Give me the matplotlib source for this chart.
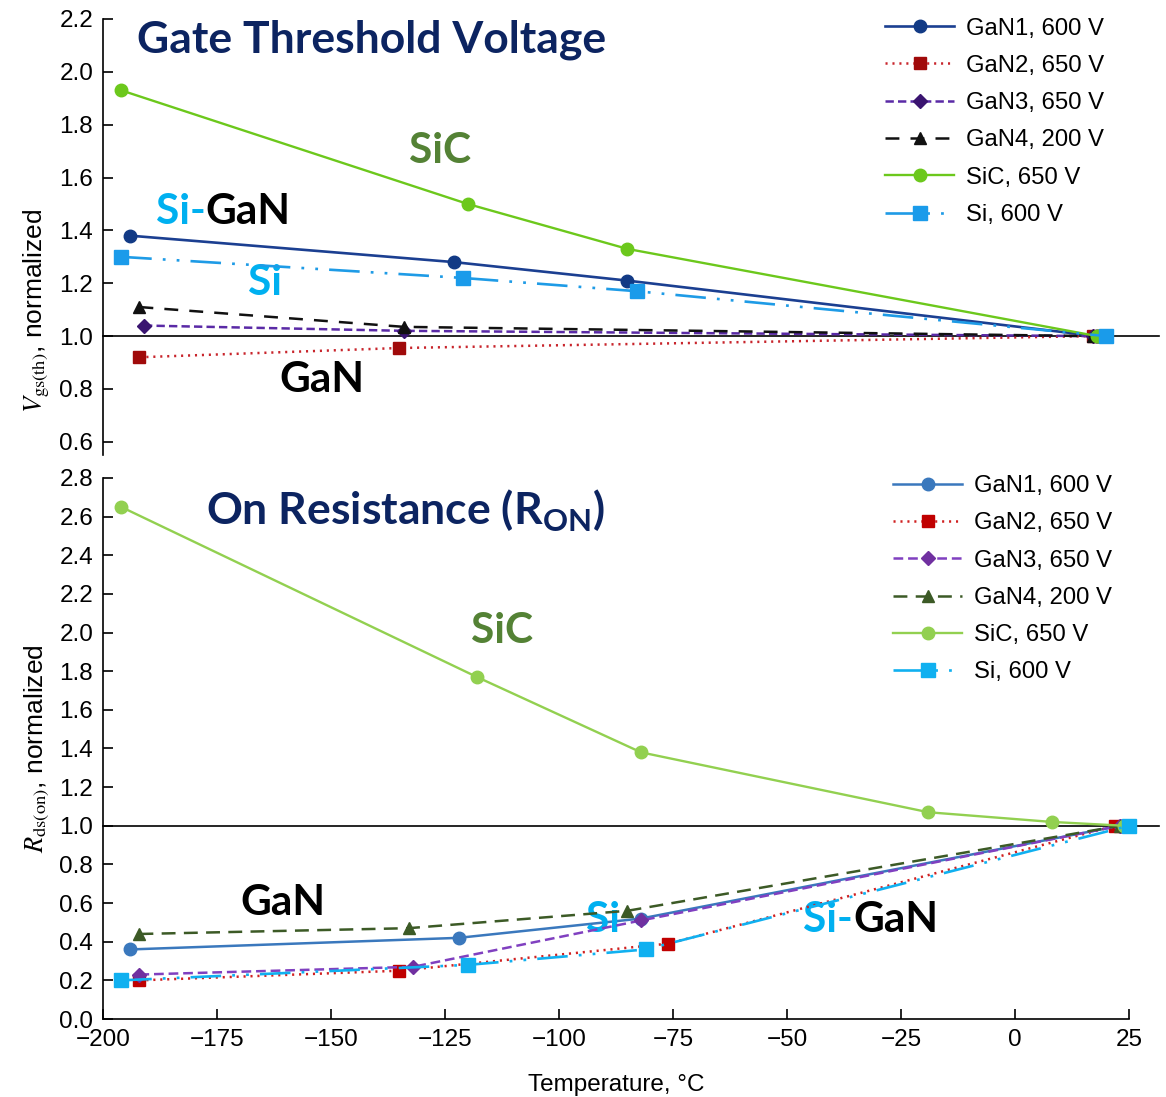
import matplotlib
matplotlib.use("Agg")
import matplotlib.pyplot as plt

plt.rcParams['font.family'] = ['Liberation Sans', 'DejaVu Sans']
plt.rcParams['lines.scale_dashes'] = False

labels = ["GaN1, 600 V", "GaN2, 650 V", "GaN3, 650 V", "GaN4, 200 V", "SiC, 650 V", "Si, 600 V"]

# --- top: gate threshold voltage (normalized to 25 C) ---
vth_gan1_t = [-194, -123, -85, 18]
vth_gan1_v = [1.38, 1.28, 1.21, 1.00]
vth_gan2_t = [-192, -135, 17]
vth_gan2_v = [0.92, 0.955, 1.00]
vth_gan3_t = [-191, -134, 17]
vth_gan3_v = [1.04, 1.02, 1.00]
vth_gan4_t = [-192, -134, 17]
vth_gan4_v = [1.11, 1.035, 1.00]
vth_sic_t = [-196, -120, -85, 18]
vth_sic_v = [1.93, 1.50, 1.33, 1.00]
vth_si_t = [-196, -121, -83, 20]
vth_si_v = [1.30, 1.22, 1.17, 1.00]

# --- bottom: on resistance (normalized to 25 C) ---
ron_gan1_t = [-194, -122, -82, 23]
ron_gan1_v = [0.36, 0.42, 0.52, 1.00]
ron_gan2_t = [-192, -135, -76, 22]
ron_gan2_v = [0.20, 0.25, 0.39, 1.00]
ron_gan3_t = [-192, -132, -82, 23]
ron_gan3_v = [0.23, 0.27, 0.51, 1.00]
ron_gan4_t = [-192, -133, -85, 23]
ron_gan4_v = [0.44, 0.47, 0.56, 1.00]
ron_sic_t = [-196, -118, -82, -19, 8, 24]
ron_sic_v = [2.65, 1.77, 1.38, 1.07, 1.02, 1.00]
ron_si_t = [-196, -120, -81, 25]
ron_si_v = [0.20, 0.28, 0.36, 1.00]

x_ticks = [-200, -175, -150, -125, -100, -75, -50, -25, 0, 25]

NAVY = '#0c2461'
ANN_GREEN = '#548235'
ANN_CYAN = '#00b0f0'
BOLD = dict(family='Lato', weight='bold')
TITLE_FS = 32
ANN_FS = 30.5

DOT = (0, (1.5, 3.5))
SI_DASH = (0, (22, 8, 2, 8, 2, 8))

top_styles = [
    dict(color='#1b3f91', ls='-', lw=1.9, marker='o', ms=9, mfc='#123a85', mec='#123a85'),
    dict(color='#c8242b', ls=DOT, lw=1.8, marker='s', ms=9, mfc='#a00a0a', mec='#a00a0a'),
    dict(color='#5a2aa6', ls=(0, (6, 3)), lw=1.8, marker='D', ms=7, mfc='#3a1470', mec='#3a1470'),
    dict(color='#111111', ls=(0, (10, 8)), lw=1.8, marker='^', ms=9, mfc='#111111', mec='#111111'),
    dict(color='#6cc81c', ls='-', lw=1.7, marker='o', ms=9, mfc='#6cc81c', mec='#6cc81c'),
    dict(color='#1e9be6', ls=SI_DASH, lw=1.9, marker='s', ms=9.5, mfc='#1a9bea', mec='#1a9bea'),
]
bot_styles = [
    dict(color='#3a78bd', ls='-', lw=1.8, marker='o', ms=9, mfc='#3a78bd', mec='#3a78bd'),
    dict(color='#d02020', ls=DOT, lw=1.8, marker='s', ms=9, mfc='#c00000', mec='#c00000'),
    dict(color='#8040c0', ls=(0, (7, 3.5)), lw=1.8, marker='D', ms=7, mfc='#7030a0', mec='#7030a0'),
    dict(color='#3c5a26', ls=(0, (10, 6)), lw=1.8, marker='^', ms=9, mfc='#3c5a26', mec='#3c5a26'),
    dict(color='#92d050', ls='-', lw=1.7, marker='o', ms=9, mfc='#92d050', mec='#92d050'),
    dict(color='#10b0f0', ls=SI_DASH, lw=1.9, marker='s', ms=9.5, mfc='#10b0f0', mec='#10b0f0'),
]

top_data = [(vth_gan1_t, vth_gan1_v), (vth_gan2_t, vth_gan2_v), (vth_gan3_t, vth_gan3_v),
            (vth_gan4_t, vth_gan4_v), (vth_sic_t, vth_sic_v), (vth_si_t, vth_si_v)]
bot_data = [(ron_gan1_t, ron_gan1_v), (ron_gan2_t, ron_gan2_v), (ron_gan3_t, ron_gan3_v),
            (ron_gan4_t, ron_gan4_v), (ron_sic_t, ron_sic_v), (ron_si_t, ron_si_v)]

# draw order: purple under blue, green on top
draw_order = [2, 1, 5, 3, 0, 4]

fig = plt.figure(figsize=(11.66, 10.97), dpi=100)
ax1 = fig.add_axes([0.0883, 0.5852, 0.8800, 0.3975])
ax2 = fig.add_axes([0.0883, 0.0711, 0.8800, 0.4932])


def draw_panel(ax, data, styles):
    handles = [None] * len(data)
    for i in draw_order:
        t, v = data[i]
        st = styles[i]
        h, = ax.plot(t, v, color=st['color'], linestyle=st['ls'], linewidth=st['lw'],
                     marker=st['marker'], markersize=st['ms'], markerfacecolor=st['mfc'],
                     markeredgecolor=st['mec'], label=labels[i], zorder=3 + i * 0.1, clip_on=False)
        handles[i] = h
    ax.axhline(1.0, xmin=0, xmax=1.029, color='black', lw=1.2, zorder=2, clip_on=False)
    ax.set_xlim(-200, 25)
    for s in ['top', 'right']:
        ax.spines[s].set_visible(False)
    ax.spines['left'].set_linewidth(1.2)
    ax.spines['bottom'].set_linewidth(1.2)
    ax.tick_params(direction='in', length=7, width=1.2, labelsize=17.5, pad=7)
    return handles


h1 = draw_panel(ax1, top_data, top_styles)
ax1.set_ylim(0.55, 2.2)
ax1.set_yticks([0.6, 0.8, 1.0, 1.2, 1.4, 1.6, 1.8, 2.0, 2.2])
ax1.set_yticklabels(['0.6', '0.8', '1.0', '1.2', '1.4', '1.6', '1.8', '2.0', '2.2'])
ax1.spines['bottom'].set_visible(False)
ax1.set_xticks([])
ax1.set_ylabel(r'$V_{\mathrm{gs(th)}}$, normalized', fontsize=19, math_fontfamily='stix')
ax1.yaxis.set_label_coords(-0.050, 0.33)

h2 = draw_panel(ax2, bot_data, bot_styles)
ax2.set_ylim(0, 2.8)
ax2.set_yticks([0.0, 0.2, 0.4, 0.6, 0.8, 1.0, 1.2, 1.4, 1.6, 1.8, 2.0, 2.2, 2.4, 2.6, 2.8])
ax2.set_yticklabels(['%.1f' % y for y in ax2.get_yticks()])
ax2.set_xticks(x_ticks)
ax2.set_xticklabels(['\u2212%d' % -x if x < 0 else '%d' % x for x in x_ticks])
ax2.set_ylabel(r'$R_{\mathrm{ds(on)}}$, normalized', fontsize=19, math_fontfamily='stix')
ax2.yaxis.set_label_coords(-0.050, 0.5)
ax2.set_xlabel('Temperature, \u00b0C', fontsize=17.5, labelpad=17)

leg_kw = dict(loc='upper left', frameon=False, fontsize=17.2, handlelength=2.9,
              handletextpad=0.5, labelspacing=0.64, borderpad=0, borderaxespad=0,
              bbox_transform=fig.transFigure)
ax1.legend(handles=h1, bbox_to_anchor=(0.759, 0.984), **leg_kw)
ax2.legend(handles=h2, bbox_to_anchor=(0.766, 0.567), **leg_kw)

# titles and group labels
ax1.text(-192.5, 2.12, 'Gate Threshold Voltage', color=NAVY, fontsize=TITLE_FS, va='center', ha='left', **BOLD)
ax1.text(-126, 1.70, 'SiC', color=ANN_GREEN, fontsize=ANN_FS, va='center', ha='center', **BOLD)
ax1.text(-177.5, 1.47, 'Si-', color=ANN_CYAN, fontsize=ANN_FS, va='center', ha='right', **BOLD)
ax1.text(-177.5, 1.47, 'GaN', color='black', fontsize=ANN_FS, va='center', ha='left', **BOLD)
ax1.text(-164.5, 1.20, 'Si', color=ANN_CYAN, fontsize=ANN_FS, va='center', ha='center', **BOLD)
ax1.text(-152, 0.834, 'GaN', color='black', fontsize=ANN_FS, va='center', ha='center', **BOLD)

ax2.text(-177.5, 2.63, r'On Resistance (R$_\mathregular{ON}$)', color=NAVY, fontsize=TITLE_FS,
         va='center', ha='left', **BOLD)
ax2.text(-112.5, 2.01, 'SiC', color=ANN_GREEN, fontsize=ANN_FS, va='center', ha='center', **BOLD)
ax2.text(-160.5, 0.60, 'GaN', color='black', fontsize=ANN_FS, va='center', ha='center', **BOLD)
ax2.text(-90.3, 0.51, 'Si', color=ANN_CYAN, fontsize=ANN_FS, va='center', ha='center', **BOLD)
ax2.text(-35.5, 0.51, 'Si-', color=ANN_CYAN, fontsize=ANN_FS, va='center', ha='right', **BOLD)
ax2.text(-35.5, 0.51, 'GaN', color='black', fontsize=ANN_FS, va='center', ha='left', **BOLD)

fig.savefig('out.png', dpi=100)
